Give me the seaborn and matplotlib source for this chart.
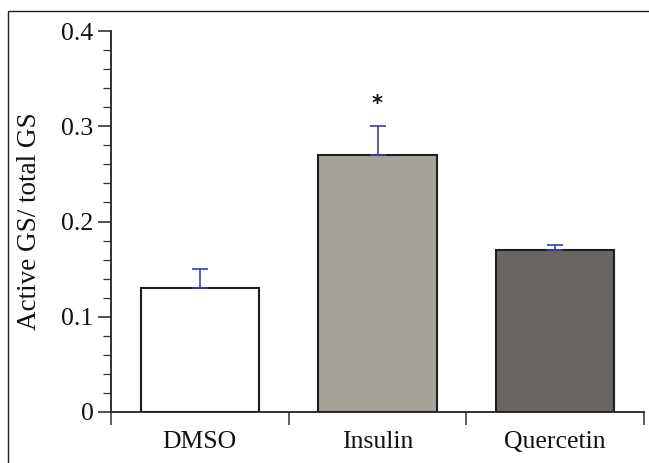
import matplotlib
matplotlib.use("Agg")
import matplotlib.pyplot as plt
import seaborn as sns
import pandas as pd
from matplotlib.patches import Rectangle
from matplotlib.ticker import MultipleLocator, FixedLocator

categories = ["DMSO", "Insulin", "Quercetin"]
values = [0.13, 0.27, 0.17]
errors = [0.02, 0.03, 0.005]
colors = ["#ffffff", "#a6a39b", "#6a6561"]
y_ticks = [0, 0.1, 0.2, 0.3, 0.4]
y_tick_labels = ["0", "0.1", "0.2", "0.3", "0.4"]
star_label = "*"
ylabel = "Active GS/ total GS"

sns.set_style("ticks")
plt.rcParams["font.family"] = ["Liberation Serif", "DejaVu Serif"]

df = pd.DataFrame({"cat": categories, "val": values})

fig = plt.figure(figsize=(6.49, 4.63), dpi=100)
ax = fig.add_axes([111/649, 1-412/463, 533/649, 381/463])

sns.barplot(data=df, x="cat", y="val", hue="cat", palette=colors,
            order=categories, hue_order=categories, width=0.665,
            edgecolor="#1e1e1e", linewidth=1.5, errorbar=None,
            legend=False, ax=ax, saturation=1)

ax.errorbar(range(len(categories)), values, yerr=[[0]*len(errors), errors],
            fmt="none", ecolor="#3b40a8", elinewidth=1.2, capsize=5.8,
            capthick=1.2, zorder=1)

ax.text(1, values[1] + errors[1] + 0.023, star_label, ha="center", va="center",
        fontsize=15, fontweight="bold", family="DejaVu Sans", color="#111111")

ax.set_xlim(-0.5, 2.5)
ax.set_ylim(0, 0.4)
ax.set_yticks(y_ticks)
ax.set_yticklabels(y_tick_labels)
ax.yaxis.set_minor_locator(MultipleLocator(0.02))
ax.xaxis.set_minor_locator(FixedLocator([-0.5, 0.5, 1.5, 2.5]))

ax.tick_params(axis="y", which="major", length=9.5, width=1.1, pad=3,
               labelsize=18.5, color="#222222", labelcolor="#111111")
ax.tick_params(axis="y", which="minor", length=5.8, width=0.9, color="#333333")
ax.tick_params(axis="x", which="major", length=0, pad=14, labelsize=18.5,
               labelcolor="#111111")
ax.tick_params(axis="x", which="minor", length=9, width=1.1, color="#333333")

for s in ["top", "right"]:
    ax.spines[s].set_visible(False)
for s in ["left", "bottom"]:
    ax.spines[s].set_linewidth(1.3)
    ax.spines[s].set_color("#222222")

ax.set_xlabel("")
ax.set_ylabel(ylabel, fontsize=19.5, color="#111111")
ax.yaxis.set_label_coords(-0.129, 0.5)

fig.patches.append(Rectangle((8/649, -0.5), 2, 1.5 - 11/463, transform=fig.transFigure,
                             fill=False, edgecolor="#222222", linewidth=1.0))

fig.savefig("out.png", dpi=100)
